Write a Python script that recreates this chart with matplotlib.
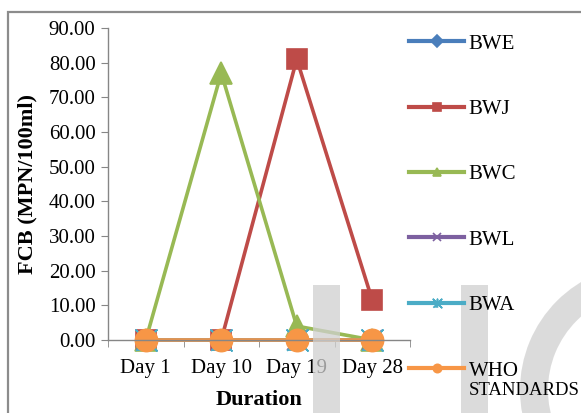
import matplotlib.pyplot as plt
from matplotlib.patches import Rectangle, Wedge

plt.rcParams['font.family'] = ['Liberation Serif', 'DejaVu Serif']

days = ['Day 1', 'Day 10', 'Day 19', 'Day 28']
bwe = [0, 0, 0, 0]
bwj = [0, 0, 81.0, 11.5]
bwc = [0, 77.0, 4.0, 0]
bwl = [0, 0, 0, 0]
bwa = [0, 0, 0, 0]
who = [0, 0, 0, 0]

# Excel-style "star": an x crossed by a vertical bar
star = [(-1, -1), (1, 1), (0, 0), (-1, 1), (1, -1), (0, 0), (0, 1), (0, -1)]

series = [
    ('BWE', bwe, '#4A7EBB', 'D', 10),
    ('BWJ', bwj, '#BE4B48', 's', 14),
    ('BWC', bwc, '#98B954', '^', 16),
    ('BWL', bwl, '#7D60A0', 'x', 14),
    ('BWA', bwa, '#4BACC6', star, 15),
    ('WHO', who, '#F79646', 'o', 16),
]

fig = plt.figure(figsize=(5.81, 4.13), dpi=100)
ax = fig.add_axes([0.1859, 0.1768, 0.5198, 0.7554])

x = range(len(days))
for name, vals, color, marker, ms in series:
    ax.plot(x, vals, color=color, lw=2.6, marker=marker, markersize=ms,
            markeredgecolor=color, markeredgewidth=1.2, clip_on=False, label=name)

ax.set_xlim(-0.5, 3.5)
ax.set_ylim(0, 90)
ax.set_yticks(range(0, 91, 10))
ax.set_yticklabels([f'{v:.2f}' for v in range(0, 91, 10)], fontsize=15)
ax.set_xticks(x)
ax.set_xticklabels(days, fontsize=15)
ax.set_xticks([-0.5, 0.5, 1.5, 2.5, 3.5], minor=True)
ax.tick_params(axis='x', which='major', length=0, pad=14)
ax.tick_params(axis='x', which='minor', length=5, color='#868686', direction='out')
ax.tick_params(axis='y', length=5, color='#868686', pad=4)
for s in ['top', 'right']:
    ax.spines[s].set_visible(False)
for s in ['left', 'bottom']:
    ax.spines[s].set_color('#868686')
    ax.spines[s].set_linewidth(1.0)

ax.set_ylabel('FCB (MPN/100ml)', fontsize=16, fontweight='bold', labelpad=8)
ax.set_xlabel('Duration', fontsize=16, fontweight='bold', labelpad=8)

# legend with small markers
handles, labels = ax.get_legend_handles_labels()
leg = fig.legend(handles, labels, loc='upper left', bbox_to_anchor=(0.69, 0.938),
                 frameon=False, fontsize=15, handlelength=2.65, handletextpad=0.2,
                 labelspacing=2.2, borderaxespad=0)
for h in leg.legend_handles:
    h.set_markersize(6)
    h.set_linewidth(3)
who_text = leg.get_texts()[-1]
fig.add_artist(plt.Annotation('STANDARDS', xy=(0, 0), xycoords=who_text,
                              xytext=(0, -1), textcoords='offset points',
                              va='top', ha='left', fontsize=13.5, zorder=6))

# chart border
fig.add_artist(Rectangle((8 / 581, -0.2), 1.2, 1.2 - 12 / 413, transform=fig.transFigure,
                         fill=False, edgecolor='#8c8c8c', lw=1.6))

# watermark, above the lines but under the text
wm = dict(transform=fig.dpi_scale_trans, color='#d0d0d0', alpha=0.75, lw=0, zorder=1)
fig.add_artist(Rectangle((3.13, 0), 0.27, 1.28, **wm))
fig.add_artist(Rectangle((4.61, 0), 0.27, 1.28, **wm))
fig.add_artist(Wedge((6.46, 0.23), 1.26, 0, 360, width=0.28, **wm))

fig.savefig('out.png', dpi=100)
